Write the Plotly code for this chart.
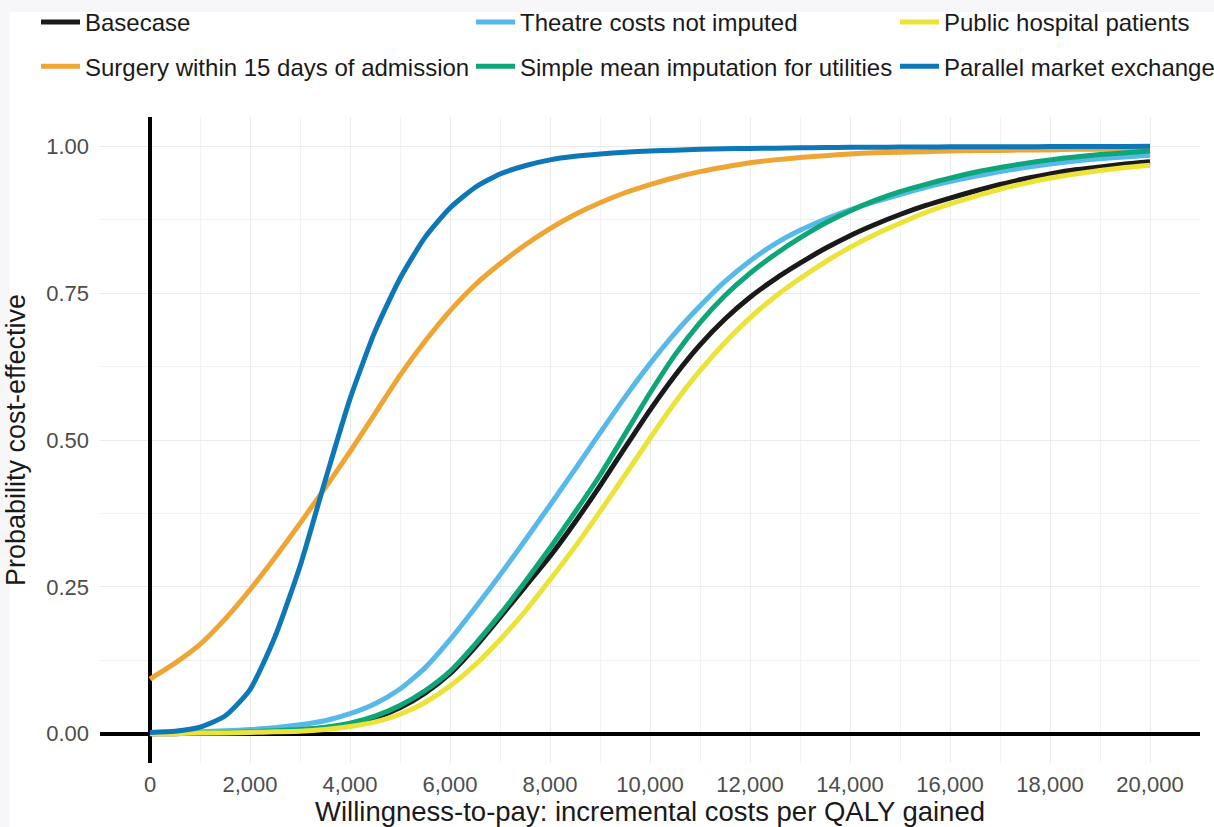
import plotly.graph_objects as go

# Willingness-to-pay thresholds (per QALY gained)
wtp = list(range(0, 20001, 500))

# Probability that the intervention is cost-effective, by scenario
basecase = [0.000, 0.000, 0.001, 0.002, 0.003, 0.004, 0.006, 0.010, 0.016, 0.027,
            0.044, 0.069, 0.102, 0.147, 0.198, 0.250, 0.302, 0.360, 0.422, 0.487,
            0.551, 0.610, 0.662, 0.706, 0.743, 0.774, 0.801, 0.826, 0.848, 0.867,
            0.884, 0.899, 0.912, 0.924, 0.935, 0.945, 0.953, 0.960, 0.965, 0.970,
            0.974]
surgery_15d = [0.093, 0.120, 0.152, 0.195, 0.245, 0.300, 0.358, 0.418, 0.480, 0.545,
               0.610, 0.668, 0.720, 0.764, 0.800, 0.832, 0.860, 0.884, 0.904, 0.921,
               0.935, 0.947, 0.957, 0.965, 0.972, 0.977, 0.981, 0.984, 0.987, 0.989,
               0.990, 0.991, 0.992, 0.993, 0.993, 0.994, 0.994, 0.995, 0.995, 0.995,
               0.996]
theatre_not_imputed = [0.001, 0.002, 0.003, 0.005, 0.007, 0.010, 0.015, 0.022, 0.034, 0.051,
                       0.076, 0.112, 0.160, 0.214, 0.270, 0.329, 0.389, 0.450, 0.512, 0.573,
                       0.630, 0.682, 0.728, 0.770, 0.805, 0.834, 0.857, 0.876, 0.892, 0.906,
                       0.918, 0.930, 0.940, 0.949, 0.957, 0.964, 0.970, 0.975, 0.979, 0.982,
                       0.985]
simple_mean_util = [0.000, 0.001, 0.001, 0.002, 0.003, 0.005, 0.007, 0.011, 0.018, 0.030,
                    0.048, 0.073, 0.106, 0.152, 0.203, 0.258, 0.316, 0.377, 0.440, 0.510,
                    0.580, 0.645, 0.700, 0.746, 0.784, 0.816, 0.844, 0.869, 0.890, 0.908,
                    0.923, 0.935, 0.946, 0.956, 0.964, 0.971, 0.977, 0.982, 0.986, 0.989,
                    0.992]
public_hospital = [0.000, 0.000, 0.001, 0.001, 0.002, 0.003, 0.004, 0.007, 0.012, 0.020,
                   0.033, 0.053, 0.081, 0.117, 0.160, 0.208, 0.262, 0.318, 0.378, 0.440,
                   0.503, 0.564, 0.618, 0.666, 0.708, 0.744, 0.775, 0.803, 0.828, 0.850,
                   0.869, 0.887, 0.902, 0.915, 0.927, 0.937, 0.946, 0.953, 0.959, 0.964,
                   0.968]
parallel_market = [0.002, 0.004, 0.011, 0.030, 0.075, 0.165, 0.285, 0.430, 0.570, 0.685,
                   0.775, 0.845, 0.895, 0.930, 0.953, 0.967, 0.977, 0.983, 0.987, 0.990,
                   0.992, 0.9935, 0.995, 0.996, 0.9965, 0.997, 0.9975, 0.998, 0.9983, 0.9986,
                   0.9988, 0.999, 0.9992, 0.9993, 0.9994, 0.9995, 0.9996, 0.9997, 0.9998, 0.9999,
                   1.000]

x_ticks = [0, 2000, 4000, 6000, 8000, 10000, 12000, 14000, 16000, 18000, 20000]
y_ticks = [0, 0.25, 0.5, 0.75, 1.0]
y_tick_text = ["0.00", "0.25", "0.50", "0.75", "1.00"]

# (name, values, colour, legend column)
series = [
    ("Basecase", basecase, "#1a1a1a", "legend"),
    ("Surgery within 15 days of admission", surgery_15d, "#EFA534", "legend"),
    ("Theatre costs not imputed", theatre_not_imputed, "#56B9E9", "legend2"),
    ("Simple mean imputation for utilities", simple_mean_util, "#0EA678", "legend2"),
    ("Public hospital patients", public_hospital, "#EBE337", "legend3"),
    ("Parallel market exchange", parallel_market, "#0E77B7", "legend3"),
]

FONT = "Liberation Sans, Arial, Helvetica, sans-serif"

fig = go.Figure()
for name, vals, colour, leg in series:
    fig.add_trace(go.Scatter(
        x=wtp, y=vals, mode="lines", name=name, legend=leg,
        legendgroup=name,
        line=dict(color=colour, width=5, shape="spline", smoothing=0.6),
        hoverinfo="skip",
    ))

W, H = 1214, 827
L, R, T, B = 100, 14, 117, 64
pw, ph = W - L - R, H - T - B


def px_x(p):
    return (p - L) / pw


def px_y(p):
    return 1 - (p - T) / ph


legend_common = dict(
    orientation="v", xanchor="left", yanchor="top",
    font=dict(family=FONT, size=24, color="#1a1a1a"),
    bgcolor="rgba(0,0,0,0)", itemwidth=39, tracegroupgap=10,
    itemclick=False, itemdoubleclick=False,
)

fig.update_layout(
    width=W, height=H,
    margin=dict(l=L, r=R, t=T, b=B, autoexpand=False),
    paper_bgcolor="#f7f6f8",
    plot_bgcolor="white",
    font=dict(family=FONT, color="#1a1a1a"),
    legend=dict(x=px_x(36), y=px_y(0), **legend_common),
    legend2=dict(x=px_x(471), y=px_y(0), **legend_common),
    legend3=dict(x=px_x(895), y=px_y(0), **legend_common),
    shapes=[dict(type="rect", xref="paper", yref="paper",
                 x0=px_x(10), x1=px_x(W + 10), y0=px_y(H + 10), y1=px_y(12),
                 fillcolor="white", line=dict(width=0), layer="below")],
)

fig.update_xaxes(
    range=[-1000, 21000], tickvals=x_ticks, tickformat=",d",
    showgrid=True, gridcolor="#ebebeb", gridwidth=1.1,
    minor=dict(dtick=1000, tick0=0, showgrid=True, gridcolor="#f2f2f2", gridwidth=0.6),
    zeroline=True, zerolinecolor="black", zerolinewidth=3.5,
    showline=False, ticks="", ticklabelstandoff=6,
    tickfont=dict(family=FONT, size=22, color="#4d4d4d"),
    title=dict(text="Willingness-to-pay: incremental costs per QALY gained",
               font=dict(family=FONT, size=27.5, color="#1a1a1a"), standoff=2),
)
fig.update_yaxes(
    range=[-0.05, 1.05], tickvals=y_ticks, ticktext=y_tick_text,
    showgrid=True, gridcolor="#ebebeb", gridwidth=1.1,
    minor=dict(dtick=0.125, tick0=0, showgrid=True, gridcolor="#f2f2f2", gridwidth=0.6),
    zeroline=True, zerolinecolor="black", zerolinewidth=3.5,
    showline=False, ticks="", ticklabelstandoff=10,
    tickfont=dict(family=FONT, size=22, color="#4d4d4d"),
    title=dict(text="Probability cost-effective",
               font=dict(family=FONT, size=27, color="#1a1a1a"), standoff=12),
)

fig.write_html("out.html")
